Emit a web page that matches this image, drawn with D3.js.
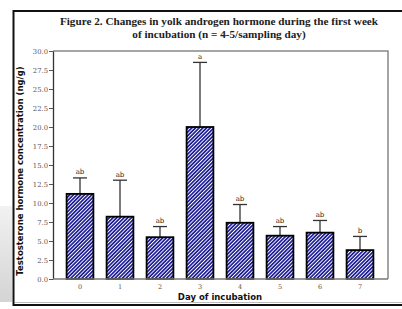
<!DOCTYPE html>
<html>
<head>
<meta charset="utf-8">
<script src="https://cdn.jsdelivr.net/npm/d3@7"></script>
<style>
  body { margin: 0; background: #fff; }
  svg { display: block; }
</style>
</head>
<body>
<div id="chart"></div>
<script>
const W = 402, H = 309;
const MARGIN = { LEFT: 53, RIGHT: 14, TOP: 51, BOTTOM: 30 };

// data
const days = ["0", "1", "2", "3", "4", "5", "6", "7"];
const means = [11.2, 8.2, 5.5, 20.0, 7.4, 5.7, 6.1, 3.8];
const upper = [13.3, 13.0, 6.9, 28.5, 9.8, 6.9, 7.7, 5.6];
const letters = ["ab", "ab", "ab", "a", "ab", "ab", "ab", "b"];
const yTicks = [0, 2.5, 5, 7.5, 10, 12.5, 15, 17.5, 20, 22.5, 25, 27.5, 30];
const titleLines = ["Figure 2. Changes in yolk androgen hormone during the first week",
                    "of incubation (n = 4-5/sampling day)"];

const svg = d3.select("#chart").append("svg")
    .attr("width", W).attr("height", H);

const defs = svg.append("defs");
const hatch = defs.append("pattern")
    .attr("id", "hatch")
    .attr("patternUnits", "userSpaceOnUse")
    .attr("width", 2.6).attr("height", 2.6)
    .attr("patternTransform", "rotate(45)");
hatch.append("rect").attr("width", 2.6).attr("height", 2.6).attr("fill", "#1e1e96");
hatch.append("rect").attr("x", 0).attr("width", 0.9).attr("height", 2.6).attr("fill", "#ffffff");

const grad = defs.append("linearGradient").attr("id", "side")
    .attr("x1", 0).attr("y1", 0).attr("x2", 0).attr("y2", 1);
grad.append("stop").attr("offset", "0%").attr("stop-color", "#f2f2f2");
grad.append("stop").attr("offset", "100%").attr("stop-color", "#d4d4d4");

// grey strip left of the frame
svg.append("rect").attr("x", 0).attr("y", 206).attr("width", 12).attr("height", 96)
    .attr("fill", "url(#side)");

// frame
svg.append("path")
    .attr("d", "M402,11 H13.5 V305 H402")
    .attr("fill", "none").attr("stroke", "#111").attr("stroke-width", 2);
svg.append("line").attr("x1", 15).attr("x2", 402).attr("y1", 302.5).attr("y2", 302.5)
    .attr("stroke", "#bbb").attr("stroke-width", 1);

const WIDTH = W - MARGIN.LEFT - MARGIN.RIGHT;
const HEIGHT = H - MARGIN.TOP - MARGIN.BOTTOM;
const g = svg.append("g").attr("transform", `translate(${MARGIN.LEFT}, ${MARGIN.TOP})`);

const x = d3.scaleBand()
    .domain(days)
    .range([7, 327])
    .paddingInner(0.33)
    .paddingOuter(0.165);

const y = d3.scaleLinear()
    .domain([0, 30])
    .range([HEIGHT, 0]);

// top and right border of plot area
g.append("path")
    .attr("d", `M0,0 H${WIDTH} V${HEIGHT}`)
    .attr("fill", "none").attr("stroke", "#888").attr("stroke-width", 1.5);

// error bars (upper only)
const eb = g.append("g").selectAll("g").data(days).enter().append("g");
eb.append("line")
    .attr("x1", (d, i) => x(d) + x.bandwidth() / 2)
    .attr("x2", (d, i) => x(d) + x.bandwidth() / 2)
    .attr("y1", (d, i) => y(means[i]))
    .attr("y2", (d, i) => y(upper[i]))
    .attr("stroke", "#333").attr("stroke-width", 1.3);
eb.append("line")
    .attr("x1", (d, i) => x(d) + x.bandwidth() / 2 - 7)
    .attr("x2", (d, i) => x(d) + x.bandwidth() / 2 + 7)
    .attr("y1", (d, i) => y(upper[i]))
    .attr("y2", (d, i) => y(upper[i]))
    .attr("stroke", "#333").attr("stroke-width", 1.3);

// bars
g.append("g").selectAll("rect").data(days).enter().append("rect")
    .attr("x", d => x(d))
    .attr("y", (d, i) => y(means[i]))
    .attr("width", x.bandwidth())
    .attr("height", (d, i) => HEIGHT - y(means[i]))
    .attr("fill", "url(#hatch)")
    .attr("stroke", "#000").attr("stroke-width", 1.8);

// significance letters
g.append("g").selectAll("text").data(days).enter().append("text")
    .attr("x", d => x(d) + x.bandwidth() / 2)
    .attr("y", (d, i) => y(upper[i]) - 3.5)
    .attr("text-anchor", "middle")
    .attr("font-family", "DejaVu Serif, serif")
    .attr("font-size", 7)
    .attr("fill", "#222")
    .text((d, i) => letters[i]);

// y axis
const yAxis = g.append("g")
    .call(d3.axisLeft(y).tickValues(yTicks).tickFormat(d3.format(".1f")).tickSize(4).tickSizeOuter(0));
yAxis.select(".domain").attr("stroke", "#333").attr("stroke-width", 1.3);
yAxis.selectAll(".tick line").attr("stroke", "#555");
yAxis.selectAll(".tick text")
    .attr("font-family", "DejaVu Serif, serif").attr("font-size", 6.8)
    .attr("fill", "#555").attr("x", -5);

// x axis
const xAxis = g.append("g")
    .attr("transform", `translate(0, ${HEIGHT})`)
    .call(d3.axisBottom(x).tickSize(0).tickSizeOuter(0));
xAxis.select(".domain").attr("d", `M0,0H${WIDTH}`).attr("stroke", "#777").attr("stroke-width", 1.3);
xAxis.selectAll(".tick text")
    .attr("font-family", "DejaVu Serif, serif").attr("font-size", 6.5)
    .attr("fill", "#555").attr("dy", "1.1em");

// titles
svg.append("g").selectAll("text").data(titleLines).enter().append("text")
    .attr("x", 219)
    .attr("y", (d, i) => 25 + i * 13)
    .attr("text-anchor", "middle")
    .attr("font-family", "Liberation Serif, serif")
    .attr("font-weight", "bold")
    .attr("font-size", 11.2)
    .attr("fill", "#222")
    .text(d => d);

svg.append("text")
    .attr("x", 220).attr("y", 300)
    .attr("text-anchor", "middle")
    .attr("font-family", "DejaVu Sans, sans-serif")
    .attr("font-weight", "bold").attr("font-size", 8.5)
    .attr("fill", "#111")
    .text("Day of incubation");

svg.append("text")
    .attr("transform", "translate(23, 171) rotate(-90)")
    .attr("text-anchor", "middle")
    .attr("font-family", "DejaVu Sans, sans-serif")
    .attr("font-weight", "bold").attr("font-size", 8.5)
    .attr("fill", "#111")
    .text("Testosterone hormone concentration (ng/g)");
</script>
</body>
</html>
